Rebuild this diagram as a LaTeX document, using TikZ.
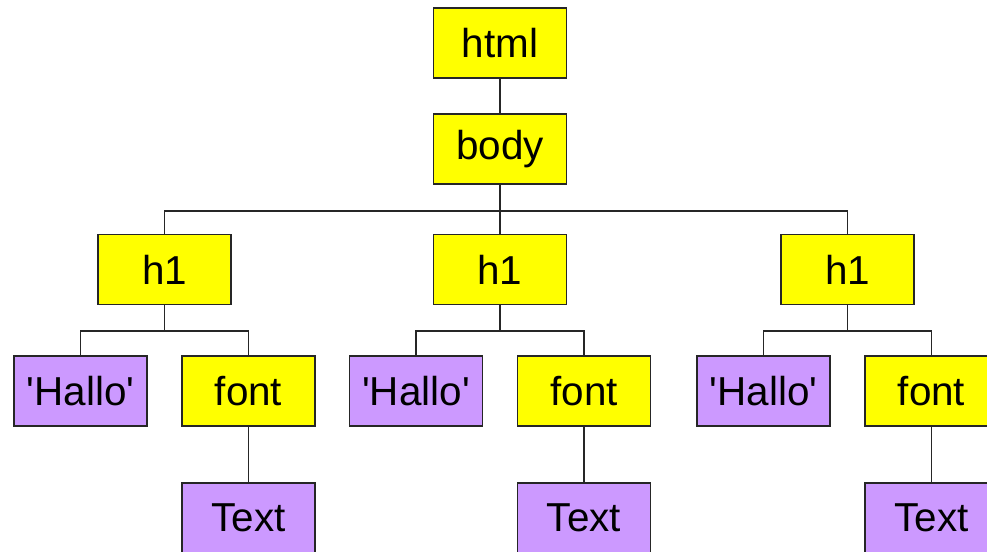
\documentclass[tikz,border=0pt]{standalone}
\usepackage{fontspec}
\setmainfont{Liberation Sans}
\usepackage{tikz}

\definecolor{tagyellow}{HTML}{FFFF00}
\definecolor{textlilac}{HTML}{CC99FF}
\newcommand{\hallo}{\textquotesingle Hallo\textquotesingle}

\begin{document}
\begin{tikzpicture}[
  elem/.style={draw=black!85,line width=1.1pt,fill=tagyellow,minimum width=2.66cm,minimum height=1.4cm,inner sep=0pt,font=\fontsize{23}{27}\selectfont},
  leaf/.style={elem,fill=textlilac},
  edge/.style={draw=black!85,line width=1.1pt}]
\useasboundingbox (0,0) rectangle (19.74,-11.04);
\clip (0,0) rectangle (19.74,-11.04);
% document tree
\node[elem] (html) at (10.0,-0.86) {html};
\node[elem] (body) at (10.0,-2.98) {body};
\node[elem] (h1a) at (3.29,-5.39) {h1};
\node[elem] (h1b) at (10.0,-5.39) {h1};
\node[elem] (h1c) at (16.95,-5.39) {h1};
\node[leaf] (halloa) at (1.61,-7.82) {\hallo};
\node[elem] (fonta) at (4.97,-7.82) {font};
\node[leaf] (texta) at (4.97,-10.36) {Text};
\node[leaf] (hallob) at (8.32,-7.82) {\hallo};
\node[elem] (fontb) at (11.68,-7.82) {font};
\node[leaf] (textb) at (11.68,-10.36) {Text};
\node[leaf] (halloc) at (15.27,-7.82) {\hallo};
\node[elem] (fontc) at (18.63,-7.82) {font};
\node[leaf] (textc) at (18.63,-10.36) {Text};
% branches
\draw[edge] (html.south)--(body.north);
\draw[edge] (body.south)--++(0,-0.52) -| (h1a.north);
\draw[edge] (body.south)--(h1b.north);
\draw[edge] (body.south)--++(0,-0.52) -| (h1c.north);
\draw[edge] (h1a.south)--++(0,-0.52) -| (halloa.north);
\draw[edge] (h1a.south)--++(0,-0.52) -| (fonta.north);
\draw[edge] (fonta.south)--(texta.north);
\draw[edge] (h1b.south)--++(0,-0.52) -| (hallob.north);
\draw[edge] (h1b.south)--++(0,-0.52) -| (fontb.north);
\draw[edge] (fontb.south)--(textb.north);
\draw[edge] (h1c.south)--++(0,-0.52) -| (halloc.north);
\draw[edge] (h1c.south)--++(0,-0.52) -| (fontc.north);
\draw[edge] (fontc.south)--(textc.north);
\end{tikzpicture}
\end{document}
